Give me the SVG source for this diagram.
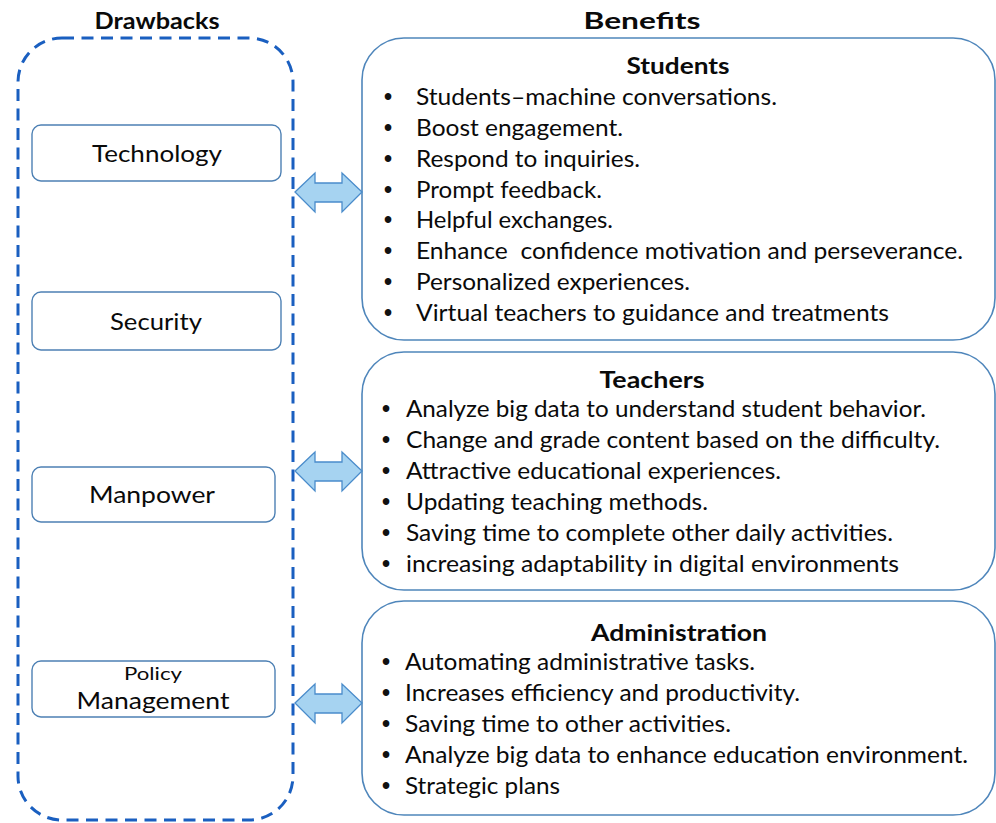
<svg xmlns="http://www.w3.org/2000/svg" xmlns:xlink="http://www.w3.org/1999/xlink" width="996" height="823" viewBox="0 0 996 823">
  <style>
    .t { font-family: Lato, "Open Sans", "Liberation Sans", sans-serif; fill: #0a0a0a; }
    .head { font-weight: bold; font-size: 23px; }
    .item { font-size: 22.5px; }
    .lbl { font-size: 23.5px; text-anchor: middle; }
    .bul { font-family: "Liberation Sans", sans-serif; font-size: 23px; font-weight: bold; fill: #111; }
    .small { fill: #fff; stroke: #4d80b4; stroke-width: 1.4; }
    .panel { fill: #fff; stroke: #4f86bb; stroke-width: 1.6; }
    .frame { fill: none; stroke: #1a5fc0; stroke-width: 3; stroke-dasharray: 12 7.5; }
    .arrow { fill: #a6d3f1; stroke: #4a8ccb; stroke-width: 1.3; stroke-linejoin: miter; }
  </style>
  <defs>
    <path id="dbl-arrow" d="M295,0 L315,-19 L315,-9 L342,-9 L342,-19 L362,0 L342,20 L342,10 L315,10 L315,20 Z"/>
  </defs>

  <rect width="996" height="823" fill="#fff"/>

  <!-- column headings -->
  <text class="t head" x="157" y="29" text-anchor="middle" font-size="25" textLength="125" lengthAdjust="spacingAndGlyphs">Drawbacks</text>
  <text class="t head" x="642" y="29" text-anchor="middle" font-size="25" textLength="117" lengthAdjust="spacingAndGlyphs">Benefits</text>

  <!-- drawbacks frame -->
  <rect class="frame" x="18" y="38" width="275" height="782" rx="44" ry="44"/>

  <g id="technology">
    <rect class="small" x="32" y="125" width="249" height="56" rx="9"/>
    <text class="t lbl" x="157" y="162" textLength="130" lengthAdjust="spacingAndGlyphs">Technology</text>
  </g>
  <g id="security">
    <rect class="small" x="32" y="292" width="249" height="58" rx="9"/>
    <text class="t lbl" x="156" y="330" textLength="92" lengthAdjust="spacingAndGlyphs">Security</text>
  </g>
  <g id="manpower">
    <rect class="small" x="32" y="467" width="243" height="55" rx="9"/>
    <text class="t lbl" x="152" y="503" textLength="126" lengthAdjust="spacingAndGlyphs">Manpower</text>
  </g>
  <g id="policy-management">
    <rect class="small" x="32" y="661" width="243" height="56" rx="9"/>
    <text class="t" x="153" y="680" text-anchor="middle" font-size="18" textLength="58" lengthAdjust="spacingAndGlyphs">Policy</text>
    <text class="t lbl" x="153" y="709" textLength="153" lengthAdjust="spacingAndGlyphs">Management</text>
  </g>

  <g id="students">
    <rect class="panel" x="362" y="38" width="633" height="302" rx="42"/>
    <text class="t head" x="678" y="74" text-anchor="middle" textLength="103" lengthAdjust="spacingAndGlyphs">Students</text>
    <g class="bul">
      <text x="384" y="105">•</text><text x="384" y="136">•</text><text x="384" y="167">•</text><text x="384" y="198">•</text>
      <text x="384" y="228">•</text><text x="384" y="259">•</text><text x="384" y="290">•</text><text x="384" y="321">•</text>
    </g>
    <g class="t item">
      <text x="416" y="105" textLength="361" lengthAdjust="spacingAndGlyphs">Students–machine conversations.</text>
      <text x="416" y="136" textLength="207" lengthAdjust="spacingAndGlyphs">Boost engagement.</text>
      <text x="416" y="167" textLength="224" lengthAdjust="spacingAndGlyphs">Respond to inquiries.</text>
      <text x="416" y="198" textLength="186" lengthAdjust="spacingAndGlyphs">Prompt feedback.</text>
      <text x="416" y="228" textLength="197" lengthAdjust="spacingAndGlyphs">Helpful exchanges.</text>
      <text x="416" y="259" textLength="547" lengthAdjust="spacingAndGlyphs" xml:space="preserve">Enhance  confidence motivation and perseverance.</text>
      <text x="416" y="290" textLength="274" lengthAdjust="spacingAndGlyphs">Personalized experiences.</text>
      <text x="416" y="321" textLength="473" lengthAdjust="spacingAndGlyphs">Virtual teachers to guidance and treatments</text>
    </g>
  </g>

  <g id="teachers">
    <rect class="panel" x="362" y="352" width="633" height="238" rx="42"/>
    <text class="t head" x="652" y="388" text-anchor="middle" textLength="105" lengthAdjust="spacingAndGlyphs">Teachers</text>
    <g class="bul">
      <text x="382" y="417">•</text><text x="382" y="448">•</text><text x="382" y="479">•</text>
      <text x="382" y="510">•</text><text x="382" y="541">•</text><text x="382" y="572">•</text>
    </g>
    <g class="t item">
      <text x="406" y="417" textLength="520" lengthAdjust="spacingAndGlyphs">Analyze big data to understand student behavior.</text>
      <text x="406" y="448" textLength="534" lengthAdjust="spacingAndGlyphs">Change and grade content based on the difficulty.</text>
      <text x="406" y="479" textLength="375" lengthAdjust="spacingAndGlyphs">Attractive educational experiences.</text>
      <text x="406" y="510" textLength="302" lengthAdjust="spacingAndGlyphs">Updating teaching methods.</text>
      <text x="406" y="541" textLength="487" lengthAdjust="spacingAndGlyphs">Saving time to complete other daily activities.</text>
      <text x="406" y="572" textLength="493" lengthAdjust="spacingAndGlyphs">increasing adaptability in digital environments</text>
    </g>
  </g>

  <g id="administration">
    <rect class="panel" x="362" y="601" width="633" height="214" rx="42"/>
    <text class="t head" x="679" y="641" text-anchor="middle" textLength="176" lengthAdjust="spacingAndGlyphs">Administration</text>
    <g class="bul">
      <text x="382" y="670">•</text><text x="382" y="701">•</text><text x="382" y="732">•</text>
      <text x="382" y="763">•</text><text x="382" y="794">•</text>
    </g>
    <g class="t item">
      <text x="405" y="670" textLength="350" lengthAdjust="spacingAndGlyphs">Automating administrative tasks.</text>
      <text x="405" y="701" textLength="395" lengthAdjust="spacingAndGlyphs">Increases efficiency and productivity.</text>
      <text x="405" y="732" textLength="326" lengthAdjust="spacingAndGlyphs">Saving time to other activities.</text>
      <text x="405" y="763" textLength="563" lengthAdjust="spacingAndGlyphs">Analyze big data to enhance education environment.</text>
      <text x="405" y="794" textLength="155" lengthAdjust="spacingAndGlyphs">Strategic plans</text>
    </g>
  </g>

  <!-- two-way connectors between drawbacks and benefit panels -->
  <g id="connectors">
    <use xlink:href="#dbl-arrow" class="arrow" transform="translate(0,192)"/>
    <use xlink:href="#dbl-arrow" class="arrow" transform="translate(0,471)"/>
    <use xlink:href="#dbl-arrow" class="arrow" transform="translate(0,703)"/>
  </g>
</svg>
